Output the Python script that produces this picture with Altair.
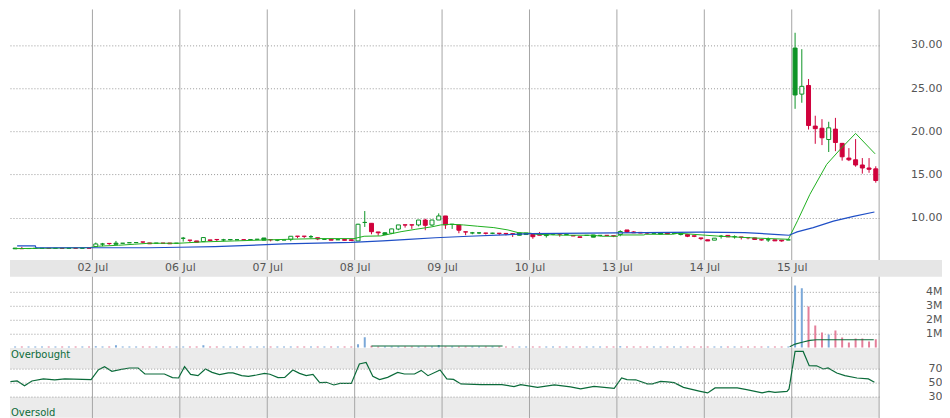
import json
import altair as alt
import pandas as pd

# ---------------- data ----------------
DAY_LABELS = ["01 Jul", "02 Jul", "06 Jul", "07 Jul", "08 Jul",
              "09 Jul", "10 Jul", "13 Jul", "14 Jul", "15 Jul"]
BARS_PER_DAY = 13

bar_open = [
    6.45, 6.48, 6.42, 6.43, 6.45, 6.45, 6.45, 6.45, 6.45, 6.46, 6.46, 6.46, 6.47,
    6.66, 6.95, 7.02, 7.05, 7.04, 7.10, 7.12, 7.19, 7.08, 7.05, 7.05, 7.07, 7.04,
    7.62, 7.40, 7.31, 7.23, 7.43, 7.48, 7.43, 7.47, 7.45, 7.45, 7.47, 7.50, 7.65,
    7.46, 7.40, 7.42, 7.50, 7.86, 7.86, 7.80, 7.68, 7.50, 7.50, 7.45, 7.48, 7.45,
    7.31, 9.45, 9.35, 8.35, 8.25, 8.20, 8.68, 9.17, 9.17, 9.16, 9.73, 9.15, 9.73,
    10.20, 9.23, 9.16, 8.36, 8.24, 8.24, 8.22, 8.20, 8.20, 8.18, 8.15, 8.23, 8.22,
    8.07, 8.12, 8.07, 8.11, 8.12, 8.05, 7.94, 7.78, 7.95, 8.00, 7.95, 7.95, 7.90,
    8.05, 8.58, 8.35, 8.30, 8.25, 8.20, 8.25, 8.28, 8.20, 8.24, 8.05, 7.90, 7.66,
    7.44, 7.40, 7.85, 7.95, 7.80, 7.76, 7.70, 7.66, 7.45, 7.44, 7.44, 7.40, 7.43,
    29.63, 24.30, 25.30, 20.60, 20.35, 19.05, 20.25, 18.60, 16.90, 16.70, 16.10, 15.75, 15.65,
]
bar_high = [
    6.45, 6.48, 6.62, 6.43, 6.45, 6.45, 6.45, 6.45, 6.45, 6.46, 6.46, 6.46, 6.47,
    7.12, 7.08, 7.02, 7.31, 7.04, 7.10, 7.12, 7.19, 7.08, 7.05, 7.05, 7.07, 7.04,
    7.77, 7.40, 7.31, 7.72, 7.43, 7.48, 7.55, 7.47, 7.45, 7.45, 7.47, 7.52, 7.65,
    7.46, 7.40, 7.42, 7.85, 7.86, 7.86, 7.98, 7.68, 7.50, 7.50, 7.45, 7.48, 7.45,
    9.30, 10.77, 9.35, 8.35, 8.30, 8.72, 9.16, 9.17, 9.17, 9.73, 9.88, 9.75, 10.50,
    10.20, 9.28, 9.16, 8.36, 8.35, 8.33, 8.22, 8.25, 8.20, 8.18, 8.15, 8.23, 8.22,
    8.07, 8.35, 8.07, 8.22, 8.12, 8.05, 7.94, 7.78, 7.95, 8.00, 7.95, 7.95, 7.90,
    8.55, 8.58, 8.45, 8.30, 8.25, 8.20, 8.25, 8.28, 8.20, 8.24, 8.05, 7.90, 7.66,
    7.44, 7.63, 8.00, 7.95, 7.95, 7.76, 7.70, 7.66, 7.45, 7.70, 7.44, 7.40, 7.43,
    31.40, 29.50, 26.05, 21.80, 21.40, 21.10, 21.55, 18.65, 18.05, 19.10, 16.90, 16.90, 15.95,
]
bar_low = [
    6.45, 6.40, 6.42, 6.43, 6.45, 6.45, 6.45, 6.45, 6.45, 6.46, 6.46, 6.46, 6.47,
    6.66, 6.70, 6.85, 6.92, 7.04, 7.10, 7.12, 7.05, 6.98, 7.05, 7.05, 6.98, 7.04,
    7.23, 7.12, 7.16, 7.20, 7.30, 7.28, 7.28, 7.38, 7.45, 7.45, 7.47, 7.45, 7.40,
    7.26, 7.28, 7.42, 7.28, 7.62, 7.65, 7.60, 7.40, 7.50, 7.40, 7.45, 7.38, 7.35,
    7.30, 8.93, 8.08, 7.92, 8.05, 8.10, 8.55, 8.85, 8.70, 9.00, 8.55, 9.00, 9.73,
    8.70, 8.70, 8.20, 7.97, 8.08, 8.10, 8.05, 8.10, 7.97, 7.95, 7.77, 7.97, 8.05,
    7.56, 7.97, 7.70, 7.97, 7.80, 8.05, 7.88, 7.72, 7.95, 7.75, 7.95, 7.95, 7.75,
    7.85, 8.23, 8.25, 8.22, 8.10, 8.20, 8.10, 8.12, 8.20, 7.95, 7.75, 7.75, 7.40,
    7.31, 7.40, 7.58, 7.78, 7.58, 7.48, 7.50, 7.48, 7.35, 7.20, 7.32, 7.22, 7.43,
    22.60, 23.30, 20.20, 18.55, 18.40, 17.60, 17.70, 16.60, 16.55, 15.90, 15.10, 15.20, 14.05,
]
bar_close = [
    6.45, 6.40, 6.42, 6.43, 6.45, 6.45, 6.45, 6.45, 6.45, 6.46, 6.46, 6.46, 6.47,
    6.96, 6.95, 7.00, 6.92, 7.04, 7.10, 7.12, 7.18, 6.98, 7.05, 7.05, 6.98, 7.04,
    7.62, 7.38, 7.16, 7.70, 7.37, 7.46, 7.43, 7.45, 7.45, 7.45, 7.47, 7.50, 7.40,
    7.44, 7.40, 7.42, 7.85, 7.84, 7.84, 7.80, 7.54, 7.50, 7.40, 7.45, 7.38, 7.35,
    9.24, 9.45, 8.38, 8.25, 8.05, 8.70, 9.16, 9.15, 9.15, 9.73, 9.12, 9.73, 10.20,
    9.16, 9.23, 8.55, 8.34, 8.24, 8.24, 8.20, 8.20, 8.18, 8.15, 8.13, 7.97, 8.05,
    7.80, 7.97, 7.93, 8.11, 8.10, 8.05, 7.88, 7.72, 7.95, 7.75, 7.95, 7.95, 7.88,
    8.40, 8.35, 8.25, 8.22, 8.22, 8.20, 8.10, 8.12, 8.20, 8.05, 7.85, 7.85, 7.58,
    7.31, 7.63, 7.85, 7.78, 7.80, 7.74, 7.68, 7.48, 7.43, 7.44, 7.32, 7.31, 7.43,
    24.20, 25.20, 20.67, 20.30, 19.25, 20.40, 18.70, 17.05, 16.70, 16.10, 15.75, 15.60, 14.30,
]
# u = bar up on the previous bar (green / blue volume), d = down (red / pink); one string per day
bar_dir = [
    "uuduuudududud", "uuduuuudduddu", "uddudduuuduuu", "duuuddudududd", "uudduuudduduu",
    "dudduududdduu", "dduududduuudd", "udddduuduuddd", "duududddduddu", "uuddduddddddd",
]
bar_volume_m = [
    0.00, 0.07, 0.07, 0.06, 0.06, 0.06, 0.07, 0.06, 0.07, 0.06, 0.07, 0.06, 0.07,
    0.08, 0.07, 0.07, 0.15, 0.06, 0.06, 0.06, 0.07, 0.06, 0.06, 0.07, 0.06, 0.06,
    0.07, 0.07, 0.06, 0.15, 0.06, 0.06, 0.07, 0.06, 0.06, 0.07, 0.06, 0.06, 0.07,
    0.07, 0.06, 0.06, 0.07, 0.06, 0.06, 0.07, 0.06, 0.06, 0.07, 0.06, 0.06, 0.07,
    0.23, 0.72, 0.12, 0.07, 0.07, 0.07, 0.07, 0.06, 0.06, 0.07, 0.07, 0.07, 0.17,
    0.07, 0.06, 0.07, 0.06, 0.06, 0.06, 0.07, 0.06, 0.06, 0.07, 0.06, 0.06, 0.07,
    0.07, 0.06, 0.06, 0.07, 0.06, 0.06, 0.07, 0.06, 0.06, 0.07, 0.06, 0.06, 0.07,
    0.08, 0.07, 0.06, 0.06, 0.07, 0.06, 0.06, 0.07, 0.06, 0.06, 0.07, 0.06, 0.07,
    0.07, 0.06, 0.07, 0.06, 0.06, 0.07, 0.06, 0.06, 0.07, 0.06, 0.06, 0.07, 0.06,
    4.43, 4.24, 2.93, 1.57, 1.07, 0.93, 1.21, 0.71, 0.36, 0.64, 0.64, 0.43, 0.59,
]

# moving averages (bar position, price)
ma_fast_t = [1.5, 6.5, 12.6, 13.9, 16.9, 19.3, 21.4, 25.8, 29.2, 34.1, 38.6, 42.6, 46.6,
             51.9, 53.4, 55.9, 58.9, 61.1, 63.4, 64.8, 66.3, 68.2, 70.3, 72.7, 74.8, 76.3,
             78.2, 78.9, 83.1, 87.4, 88.7, 91.1, 91.3, 95.0, 95.3, 99.3, 100.1, 101.6, 104.2,
             106.4, 112.3, 116.5, 117.9, 119.7, 122.2, 124.2, 126.5, 129.4]
ma_fast_v = [6.42, 6.47, 6.54, 6.70, 6.81, 6.93, 7.04, 7.04, 7.19, 7.31, 7.42, 7.51, 7.58,
             7.58, 7.85, 7.89, 8.38, 8.66, 8.93, 9.16, 9.24, 9.16, 9.01, 8.85, 8.58, 8.27,
             8.20, 8.08, 7.97, 7.97, 7.85, 7.85, 8.00, 8.00, 8.08, 8.08, 8.20, 8.12, 7.97,
             7.85, 7.62, 7.50, 9.70, 12.70, 16.17, 17.90, 19.75, 17.39]
ma_slow_t = [1.8, 4.5, 4.6, 21.4, 26.0, 31.2, 36.3, 41.5, 46.5, 51.5, 56.2, 60.0, 64.0,
             69.0, 78.2, 90.8, 103.4, 110.0, 115.0, 116.6, 117.8, 120.2, 123.2, 126.2, 129.3]
ma_slow_v = [6.73, 6.73, 6.52, 6.52, 6.58, 6.66, 6.80, 6.96, 7.06, 7.15, 7.32, 7.50, 7.68,
             7.85, 8.15, 8.25, 8.32, 8.28, 8.05, 7.97, 8.35, 8.85, 9.60, 10.15, 10.66]

# volume moving average, the two visible stretches (bar position, millions)
vol_ma_t = [54.5, 74.0, 116.7, 117.5, 118.7, 119.7, 120.7, 129.2]
vol_ma_v = [0.10, 0.10, 0.05, 0.24, 0.39, 0.50, 0.55, 0.55]
vol_ma_seg = ["a", "a", "b", "b", "b", "b", "b", "b"]

# RSI (bar position, value)
rsi_t = [0.8, 1.8, 2.9, 4.0, 5.7, 7.4, 8.9, 12.8, 13.9, 14.8, 15.9, 17.1, 18.5, 19.8, 20.8,
         23.7, 24.9, 25.8, 26.7, 27.6, 28.7, 29.8, 30.8, 31.9, 33.2, 33.9, 35.2, 36.2, 37.4,
         38.6, 39.4, 40.6, 41.6, 42.8, 43.8, 44.8, 45.8, 46.8, 47.8, 48.9, 49.8, 51.5, 52.7,
         53.7, 54.7, 55.7, 56.9, 58.4, 59.4, 60.9, 61.9, 62.9, 64.7, 65.7, 66.7, 67.8, 70.8,
         73.9, 75.7, 76.7, 79.2, 81.7, 84.1, 85.6, 87.6, 90.6, 91.7, 92.5, 93.8, 95.5, 96.3,
         97.5, 98.5, 99.5, 100.9, 103.4, 104.5, 105.6, 108.9, 110.3, 112.6, 113.6, 114.5,
         116.3, 116.6, 117.5, 118.7, 119.6, 120.7, 121.7, 122.4, 123.7, 124.9, 126.7, 128.4,
         129.3]
rsi_v = [52, 52.8, 46, 52.8, 55.7, 54.3, 55.7, 54.7, 69, 73.3, 66.6, 69, 71.4, 71.4, 62.8,
         62.8, 57.6, 57.1, 73.3, 62.3, 60.4, 70, 65.1, 61.9, 64.3, 64.3, 60.4, 59.4, 61.4,
         63.7, 62.5, 57.6, 57.8, 68.6, 63.7, 60.4, 62.3, 50.4, 50.9, 47.1, 49.4, 49.4, 77.1,
         79.4, 59.4, 54.7, 58, 65.1, 62.8, 62.8, 68, 60.4, 68.6, 55.7, 55.1, 48.6, 47.6,
         47.6, 44.7, 47.6, 43.7, 47.1, 44.3, 41.4, 45.2, 42.3, 57.1, 54.7, 54.5, 48.6, 48.6,
         52.3, 51.5, 50.4, 43.7, 38, 35.7, 42.9, 42.9, 40.4, 35.7, 38, 36.6,
         38, 41.4, 95.1, 95.1, 74.7, 74.5, 70, 71.4, 64.3, 60.4, 57.1, 55.7,
         50.9]

OVERBOUGHT, OVERSOLD = 70, 30

# ---------------- styling ----------------
GREEN = "#0e9426"
RED = "#d0023c"
MA_FAST = "#1fb01f"
MA_SLOW = "#1f4fc6"
VOL_UP = "#7ba8d8"
VOL_DOWN = "#e47f9a"
DARK_GREEN = "#0b6b3a"
GRID_V = "#a6a6a6"
GRID_H = "#9a9a9a"
BAND = "#ebebeb"
AXIS_BAND = "#e6e6e6"
LABEL = "#555555"
FONT = "DejaVu Sans"

W, H = 871, 410
RIGHT_GUTTER = 63          # room right of the plot for the value labels
X_MIN = 0.74               # first visible bar slot position (left edge of the plot)

dirs = "".join(bar_dir)
n = len(bar_open)
bars = pd.DataFrame({
    "t": [i + 0.5 for i in range(n)],
    "open": bar_open, "high": bar_high, "low": bar_low, "close": bar_close,
    "dir": ["up" if c == "u" else "down" for c in dirs],
    "volume": [v * 1e6 for v in bar_volume_m],
})
bars["body"] = ["hollow" if c > o else d for o, c, d in zip(bars.open, bars.close, bars.dir)]

ma_fast = pd.DataFrame({"t": ma_fast_t, "v": ma_fast_v})
ma_slow = pd.DataFrame({"t": ma_slow_t, "v": ma_slow_v})
vol_ma = pd.DataFrame({"t": vol_ma_t, "v": [v * 1e6 for v in vol_ma_v], "seg": vol_ma_seg})
rsi = pd.DataFrame({"t": rsi_t, "v": rsi_v})
rsi_zones = pd.DataFrame({"lo": [OVERBOUGHT, 0], "hi": [100, OVERSOLD]})
day_edges = pd.DataFrame({"t": [BARS_PER_DAY * k for k in range(1, len(DAY_LABELS) + 1)]})
one = pd.DataFrame({"a": [0]})

N_SLOTS = BARS_PER_DAY * len(DAY_LABELS)
x_scale = alt.Scale(domain=[X_MIN, N_SLOTS], nice=False, zero=False, padding=0)
label_expr = (f"datum.value < {N_SLOTS - 1} ? "
              f"{json.dumps(DAY_LABELS)}[round(datum.value / {BARS_PER_DAY})] : ''")
x_axis = alt.Axis(values=[BARS_PER_DAY * k for k in range(1, len(DAY_LABELS))],
                  labelExpr=label_expr, grid=False, ticks=False, domain=False,
                  orient="bottom", offset=-159, labelPadding=8, labelBaseline="middle",
                  labelOverlap=False, labelFlush=False, title=None, zindex=1,
                  labelFont=FONT, labelFontSize=11, labelColor=LABEL)
X = alt.X("t:Q", scale=x_scale, axis=x_axis)

price_scale = alt.Scale(domain=[5.23, 34.10], range=[250, 0], nice=False, zero=False)
vol_scale = alt.Scale(domain=[0, 4.98e6], range=[338.7, 269], nice=False)
rsi_scale = alt.Scale(domain=[0, 100], range=[409.3, 339.3], nice=False)


def right_axis(values, **kw):
    return alt.Axis(orient="right", values=values, grid=True, gridColor=GRID_H,
                    gridDash=[1, 2], gridWidth=1, ticks=False, tickSize=0, domain=False,
                    labelPadding=RIGHT_GUTTER, labelAlign="right", labelFont=FONT,
                    labelFontSize=11, labelColor=LABEL, title=None, **kw)


price_axis = right_axis([10, 15, 20, 25, 30], format=".2f")
vol_axis = right_axis([1e6, 2e6, 3e6, 4e6], labelExpr="(datum.value / 1000000) + 'M'")
rsi_axis = right_axis([30, 50, 70], zindex=1)

dir_scale = alt.Scale(domain=["up", "down"], range=[GREEN, RED])
visible = alt.datum.t > X_MIN

# ---------------- layers ----------------
zones = alt.Chart(rsi_zones).mark_rect(color=BAND).encode(
    x=alt.value(0), x2=alt.value("width"),
    y=alt.Y("lo:Q", scale=rsi_scale, axis=None), y2="hi:Q")

day_lines = alt.Chart(day_edges).mark_rule(color=GRID_V, strokeWidth=1).encode(
    x=X, y=alt.value(0), y2=alt.value("height"))

axis_band = alt.Chart(one).mark_rect(color=AXIS_BAND).encode(
    x=alt.value(0), x2=alt.value(W + RIGHT_GUTTER), y=alt.value(251), y2=alt.value(268))

candles = alt.Chart(bars).transform_filter(visible)
wicks = candles.mark_rule(strokeWidth=1, clip=True).encode(
    x=X, y=alt.Y("low:Q", scale=price_scale, axis=price_axis), y2="high:Q",
    color=alt.Color("dir:N", scale=dir_scale, legend=None))
bodies = candles.mark_bar(size=4, strokeWidth=1, clip=True).encode(
    x=X, y=alt.Y("open:Q", scale=price_scale, axis=price_axis), y2="close:Q",
    fill=alt.Fill("body:N", scale=alt.Scale(domain=["up", "down", "hollow"],
                                            range=[GREEN, RED, "white"]), legend=None),
    stroke=alt.Stroke("dir:N", scale=dir_scale, legend=None))
fast_line = alt.Chart(ma_fast).mark_line(color=MA_FAST, strokeWidth=1).encode(
    x=X, y=alt.Y("v:Q", scale=price_scale, axis=price_axis))
slow_line = alt.Chart(ma_slow).mark_line(color=MA_SLOW, strokeWidth=1.2).encode(
    x=X, y=alt.Y("v:Q", scale=price_scale, axis=price_axis))
price = alt.layer(wicks, bodies, fast_line, slow_line)

vol_bars = candles.mark_bar(size=2, clip=True).encode(
    x=X, y=alt.Y("volume:Q", scale=vol_scale, axis=vol_axis),
    color=alt.Color("dir:N", scale=alt.Scale(domain=["up", "down"], range=[VOL_UP, VOL_DOWN]),
                    legend=None))
vol_line = alt.Chart(vol_ma).mark_line(color=DARK_GREEN, strokeWidth=1.2).encode(
    x=X, y=alt.Y("v:Q", scale=vol_scale, axis=vol_axis), detail="seg:N")
volume = alt.layer(vol_bars, vol_line)

rsi_line = alt.Chart(rsi).mark_line(color=DARK_GREEN, strokeWidth=1.2).encode(
    x=X, y=alt.Y("v:Q", scale=rsi_scale, axis=rsi_axis))
ob_text = alt.Chart(one).mark_text(text="Overbought", align="left", baseline="alphabetic",
                                   dy=-10.5, font=FONT, fontSize=10, color=DARK_GREEN).encode(
    x=alt.value(1), y=alt.datum(OVERBOUGHT))
os_text = alt.Chart(one).mark_text(text="Oversold", align="left", baseline="alphabetic",
                                   dy=19, font=FONT, fontSize=10, color=DARK_GREEN).encode(
    x=alt.value(1), y=alt.datum(OVERSOLD))
rsi_panel = alt.layer(rsi_line, ob_text, os_text)

chart = alt.layer(zones, day_lines, axis_band, price, volume, rsi_panel).resolve_scale(
    y="independent", color="independent", fill="independent", stroke="independent"
).resolve_axis(y="independent").properties(
    width=W, height=H, padding=0, background="white"
).configure_view(stroke=None)

chart.save("out.html", embed_options={"renderer": "svg", "actions": False})
